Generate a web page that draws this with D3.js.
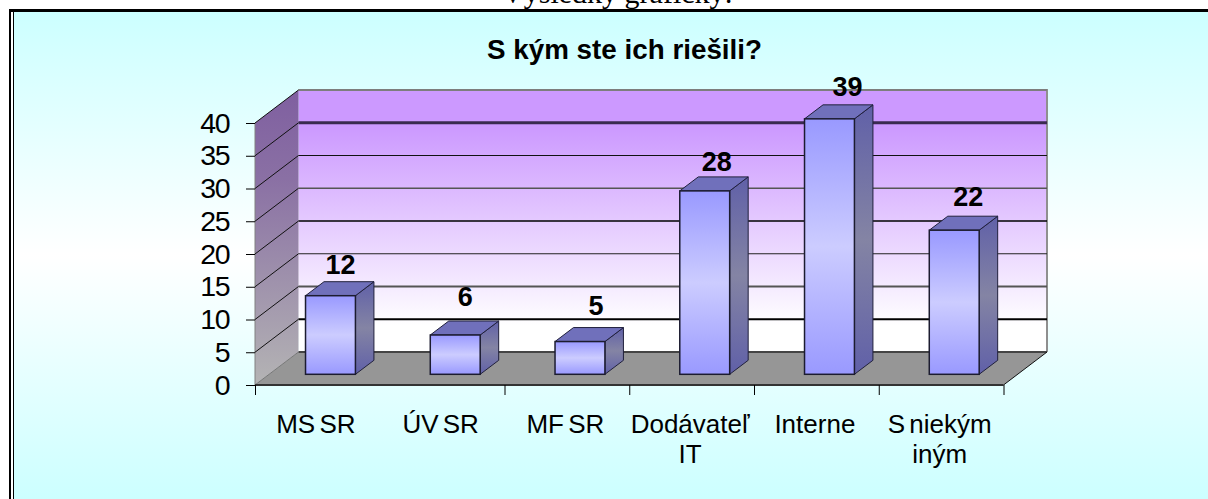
<!DOCTYPE html>
<html>
<head>
<meta charset="utf-8">
<script src="https://d3js.org/d3.v7.min.js"></script>
<style>
  html, body { margin: 0; padding: 0; background: #fff; overflow: hidden; }
  svg { display: block; }
  text { font-family: "Liberation Sans", Arial, sans-serif; fill: #000; }
</style>
</head>
<body>
<script>
// DATA
const pageHeading = "Výsledky grafický:";
const chartTitle = "S kým ste ich riešili?";
const categories = ["MS SR", "ÚV SR", "MF SR", "Dodávateľ IT", "Interne", "S niekým iným"];
const categoryLines = [["MS SR"], ["ÚV SR"], ["MF SR"], ["Dodávateľ", "IT"], ["Interne"], ["S niekým", "iným"]];
const values = [12, 6, 5, 28, 39, 22];
const yTicks = [0, 5, 10, 15, 20, 25, 30, 35, 40];
// the second category boundary has no visible tick in the picture
const xTickIndexes = [0, 2, 3, 4, 5, 6];

// LAYOUT
const width = 1208, height = 499;
const plot = { left: 255, right: 1003.5, top: 123, bottom: 385 };
const depth = { x: 43.5, y: -33 };       // floor/wall offset, front to back
const barDepth = { x: 18.5, y: -14 };    // 3d offset of one bar
const barShift = { x: 13.1, y: -10.7 };  // bars stand a bit behind the front edge

// gridline look, back wall, one per tick (0 is the floor edge)
const gridStroke = ["#444", "#000", "#555", "#222", "#000", "#555", "#111", "#3a2a50", "#777"];
const gridWeight = [2, 2, 2, 1, 1.5, 1.5, 1, 3, 1.5];
// the labels do not sit at one fixed spot above the bars
const labelLift = [8, 15, 13, 6, 9, 10];
const labelDrift = [10, 10, 16, 12, 18, 14];

// SCALES
const y = d3.scaleLinear().domain([0, 40]).range([plot.bottom, plot.top]);
const x = d3.scaleBand().domain(categories).range([plot.left, plot.right])
    .paddingInner(0.6).paddingOuter(0.3);
const xBoundary = d3.scaleLinear().domain([0, categories.length]).range([plot.left, plot.right]);

// DOM
const svg = d3.select("body").append("svg").attr("width", width).attr("height", height);
const defs = svg.append("defs");

const addGradient = (id, stops) => {
    const g = defs.append("linearGradient").attr("id", id)
        .attr("x1", 0).attr("x2", 0).attr("y1", 0).attr("y2", 1);
    stops.forEach(s => g.append("stop").attr("offset", s[0]).attr("stop-color", s[1]));
    return g;
};
addGradient("bg", [[0, "#ccffff"], [0.5, "#ffffff"], [1, "#ccffff"]]);
addGradient("wall", [[0, "#cc99ff"], [0.14, "#cc99ff"], [0.9, "#ffffff"], [1, "#ffffff"]]);
addGradient("side", [[0, "#7f5fa0"], [0.3, "#8a70a4"], [1, "#b4b4b4"]]);
addGradient("barFront", [[0, "#9999ff"], [0.5, "#ccccff"], [1, "#9999ff"]]);
addGradient("barSide", [[0, "#6060a8"], [0.5, "#8484a4"], [1, "#6060a8"]]);

// page heading cut off by the top of the picture
svg.append("text")
    .attr("x", 617.5).attr("y", 3)
    .attr("text-anchor", "middle")
    .style("font-family", '"Liberation Serif", "Times New Roman", serif')
    .style("font-size", "30px")
    .text(pageHeading);

// frame: thick top and left, thin inner left
svg.append("rect").attr("x", 14).attr("y", 12).attr("width", width - 14).attr("height", height - 12)
    .attr("fill", "url(#bg)");
svg.append("rect").attr("x", 9).attr("y", 9).attr("width", width - 9).attr("height", 3).attr("fill", "#000");
svg.append("rect").attr("x", 9).attr("y", 9).attr("width", 2).attr("height", height - 9).attr("fill", "#000");
svg.append("rect").attr("x", 13).attr("y", 12).attr("width", 1).attr("height", height - 12).attr("fill", "#000");

svg.append("text")
    .attr("x", 624.5).attr("y", 59)
    .attr("text-anchor", "middle")
    .style("font-size", "27.8px")
    .style("font-weight", "bold")
    .text(chartTitle);

const poly = pts => pts.map(p => p.join(",")).join(" ");
const y0 = y(0), yMax = y(40);

// walls and floor
svg.append("polygon")
    .attr("points", poly([[plot.left + depth.x, yMax + depth.y], [plot.right + depth.x, yMax + depth.y],
                          [plot.right + depth.x, y0 + depth.y], [plot.left + depth.x, y0 + depth.y]]))
    .attr("fill", "url(#wall)");
svg.append("polygon")
    .attr("points", poly([[plot.left, yMax], [plot.left + depth.x, yMax + depth.y],
                          [plot.left + depth.x, y0 + depth.y], [plot.left, y0]]))
    .attr("fill", "url(#side)");
svg.append("polygon")
    .attr("points", poly([[plot.left, y0], [plot.left + depth.x, y0 + depth.y],
                          [plot.right + depth.x, y0 + depth.y], [plot.right, y0]]))
    .attr("fill", "#969696");

// top and right edge of the back wall
svg.append("polyline")
    .attr("points", poly([[plot.left + depth.x, yMax + depth.y], [plot.right + depth.x, yMax + depth.y],
                          [plot.right + depth.x, y0 + depth.y]]))
    .attr("fill", "none").attr("stroke", "#8f8f8f").attr("stroke-width", 2);
svg.append("line")
    .attr("x1", plot.left).attr("x2", plot.left).attr("y1", yMax).attr("y2", y0)
    .attr("stroke", "#808080").attr("stroke-width", 1);

// gridlines: across the back wall, then diagonal on the side wall
svg.append("g").selectAll("line.grid").data(yTicks).join("line")
    .attr("class", "grid")
    .attr("x1", plot.left + depth.x).attr("x2", plot.right + depth.x)
    .attr("y1", d => y(d) + depth.y).attr("y2", d => y(d) + depth.y)
    .attr("stroke", (d, i) => gridStroke[i])
    .attr("stroke-width", (d, i) => gridWeight[i]);
svg.append("g").selectAll("line.diag").data(yTicks).join("line")
    .attr("class", "diag")
    .attr("x1", plot.left).attr("x2", plot.left + depth.x)
    .attr("y1", d => y(d)).attr("y2", d => y(d) + depth.y)
    .attr("stroke", d => d == 0 ? "#777" : "#111")
    .attr("stroke-width", 1);

// floor edges
svg.append("line")
    .attr("x1", plot.left).attr("x2", plot.right).attr("y1", y0).attr("y2", y0)
    .attr("stroke", "#333").attr("stroke-width", 2);
svg.append("line")
    .attr("x1", plot.right).attr("x2", plot.right + depth.x)
    .attr("y1", y0).attr("y2", y0 + depth.y)
    .attr("stroke", "#111").attr("stroke-width", 1);

// AXES
const yAxis = svg.append("g")
    .attr("transform", `translate(${plot.left},0)`)
    .call(d3.axisLeft(y).tickValues(yTicks).tickSize(9).tickPadding(17));
yAxis.select(".domain").remove();
yAxis.selectAll("line").attr("stroke", "#000");
yAxis.selectAll("text")
    .style("font-size", "28.5px")
    .style("letter-spacing", "-1.5px")
    .style("font-family", '"Liberation Sans", Arial, sans-serif');

const xAxis = svg.append("g")
    .attr("transform", `translate(0,${plot.bottom})`)
    .call(d3.axisBottom(xBoundary).tickValues(xTickIndexes).tickSize(10).tickFormat(""));
xAxis.select(".domain").remove();
xAxis.selectAll("line").attr("stroke", "#000");

// category labels, centred under each front band
const catLabel = svg.append("g").selectAll("text").data(categories).join("text")
    .attr("text-anchor", "middle")
    .style("font-size", "26px")
    .style("word-spacing", "-3px");
catLabel.selectAll("tspan").data((d, i) => categoryLines[i]).join("tspan")
    .attr("x", function() { return x(d3.select(this.parentNode).datum()) + x.bandwidth() / 2 - 1.5; })
    .attr("y", (d, i) => 433 + i * 30)
    .text(d => d);

// BARS
const bar = svg.append("g").selectAll("g").data(values).join("g");
const bx = i => x(categories[i]) + barShift.x;
const bw = x.bandwidth();
const by0 = y0 + barShift.y;
const barTop = d => y(d) + barShift.y;

bar.append("polygon") // side
    .attr("points", (d, i) => poly([[bx(i) + bw, barTop(d)], [bx(i) + bw + barDepth.x, barTop(d) + barDepth.y],
                                    [bx(i) + bw + barDepth.x, by0 + barDepth.y], [bx(i) + bw, by0]]))
    .attr("fill", "url(#barSide)").attr("stroke", "#20203c").attr("stroke-width", 1);
bar.append("polygon") // top
    .attr("points", (d, i) => poly([[bx(i), barTop(d)], [bx(i) + barDepth.x, barTop(d) + barDepth.y],
                                    [bx(i) + bw + barDepth.x, barTop(d) + barDepth.y], [bx(i) + bw, barTop(d)]]))
    .attr("fill", "#7070bb").attr("stroke", "#20203c").attr("stroke-width", 1);
bar.append("rect") // front
    .attr("x", (d, i) => bx(i)).attr("y", d => barTop(d))
    .attr("width", bw).attr("height", d => by0 - barTop(d))
    .attr("fill", "url(#barFront)").attr("stroke", "#1c1c30").attr("stroke-width", 1.5);

bar.append("text")
    .attr("x", (d, i) => bx(i) + bw / 2 + labelDrift[i])
    .attr("y", (d, i) => barTop(d) + barDepth.y - labelLift[i])
    .attr("text-anchor", "middle")
    .style("font-size", "27px")
    .style("font-weight", "bold")
    .text(d => d);
</script>
</body>
</html>
